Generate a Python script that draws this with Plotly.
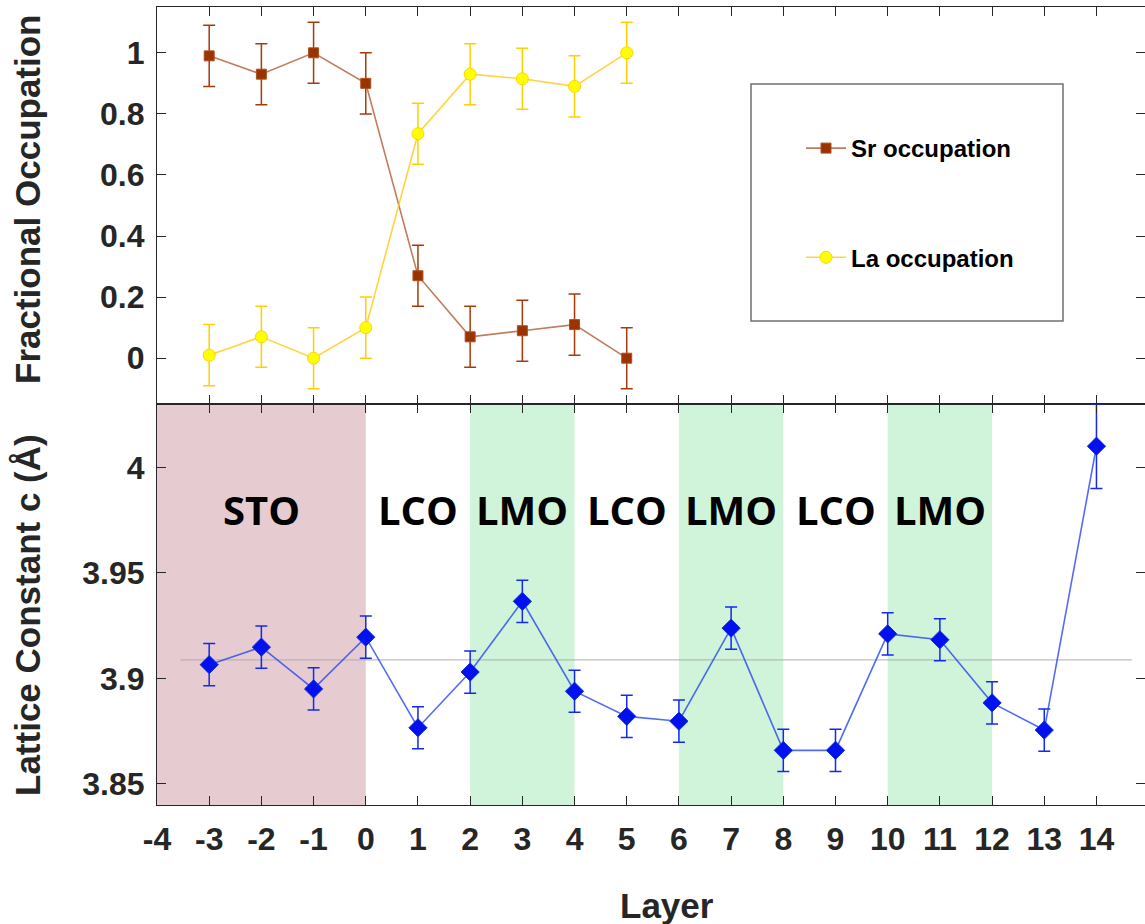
import plotly.graph_objects as go
from plotly.subplots import make_subplots

# ---------------- data ----------------
layers_occ = [-3, -2, -1, 0, 1, 2, 3, 4, 5]
sr_occ = [0.99, 0.93, 1.00, 0.90, 0.27, 0.07, 0.09, 0.11, 0.00]
sr_err = [0.1, 0.1, 0.1, 0.1, 0.1, 0.1, 0.1, 0.1, 0.1]
la_occ = [0.01, 0.07, 0.00, 0.10, 0.735, 0.93, 0.915, 0.89, 1.00]
la_err = [0.1, 0.1, 0.1, 0.1, 0.1, 0.1, 0.1, 0.1, 0.1]

layers_c = [-3, -2, -1, 0, 1, 2, 3, 4, 5, 6, 7, 8, 9, 10, 11, 12, 13, 14]
lattice_c = [3.9065, 3.9148, 3.8950, 3.9195, 3.8766, 3.9030, 3.9365, 3.8939, 3.8820,
             3.8797, 3.9238, 3.8659, 3.8659, 3.9211, 3.9183, 3.8884, 3.8755, 4.0100]
lattice_err = [0.01, 0.01, 0.01, 0.01, 0.01, 0.01, 0.01, 0.01, 0.01,
               0.01, 0.01, 0.01, 0.01, 0.01, 0.01, 0.01, 0.01, 0.02]

ref_line_x = [-3.55, 14.68]
ref_line_y = [3.9088, 3.9088]

region_labels = ["STO", "LCO", "LMO", "LCO", "LMO", "LCO", "LMO"]
region_label_x = [-2, 1, 3, 5, 7, 9, 11]
region_label_y = 3.98

sto_span = [(-4, 0)]
lmo_spans = [(2, 4), (6, 8), (10, 12)]

x_ticks = [-4, -3, -2, -1, 0, 1, 2, 3, 4, 5, 6, 7, 8, 9, 10, 11, 12, 13, 14]
x_tick_text = ["-4", "-3", "-2", "-1", "0", "1", "2", "3", "4", "5", "6", "7", "8",
               "9", "10", "11", "12", "13", "14"]
occ_ticks = [0, 0.2, 0.4, 0.6, 0.8, 1]
occ_tick_text = ["0", "0.2", "0.4", "0.6", "0.8", "1"]
c_ticks = [3.85, 3.9, 3.95, 4.0]
c_tick_text = ["3.85", "3.9", "3.95", "4"]

x_title = "Layer"
y_title_top = "Fractional Occupation"
y_title_bottom = "Lattice Constant c (Å)"

# ---------------- figure ----------------
W, H = 1145, 924
ML, MR, MT, MB = 157, 0, 7, 119

fig = make_subplots(rows=2, cols=1, shared_xaxes=True, vertical_spacing=0,
                    row_heights=[397, 401])

SR_COL = "#993300"
LA_COL = "#FFFF00"

fig.add_trace(go.Scatter(
    x=layers_occ, y=sr_occ, name="Sr occupation", mode="lines+markers",
    line=dict(color="rgba(170,80,40,0.75)", width=1.6),
    marker=dict(symbol="square", size=10, color=SR_COL,
                line=dict(color="#B0501F", width=1)),
    error_y=dict(type="data", array=sr_err, visible=True, color="#A83A0A",
                 thickness=1.5, width=6),
    legendgroup="sr"), row=1, col=1)

fig.add_trace(go.Scatter(
    x=layers_occ, y=la_occ, name="La occupation", mode="lines+markers",
    line=dict(color="rgba(255,205,30,0.85)", width=1.6),
    marker=dict(symbol="circle", size=12, color=LA_COL,
                line=dict(color="#FFD400", width=1)),
    error_y=dict(type="data", array=la_err, visible=True, color="#FFD000",
                 thickness=1.5, width=6),
    legendgroup="la"), row=1, col=1)

fig.add_trace(go.Scatter(
    x=ref_line_x, y=ref_line_y, mode="lines", showlegend=False,
    line=dict(color="rgba(170,170,170,0.75)", width=1.2), hoverinfo="skip"),
    row=2, col=1)

fig.add_trace(go.Scatter(
    x=layers_c, y=lattice_c, name="Lattice constant c", mode="lines+markers",
    showlegend=False,
    line=dict(color="rgba(40,70,240,0.8)", width=1.6),
    marker=dict(symbol="diamond", size=14, color="#0010EE",
                line=dict(color="#1030E0", width=1)),
    error_y=dict(type="data", array=lattice_err, visible=True, color="#1428F0",
                 thickness=1.5, width=6)),
    row=2, col=1)

# shaded regions in the lower panel
shapes = []
for (a, b) in sto_span:
    shapes.append(dict(type="rect", xref="x2", yref="y2 domain", x0=a, x1=b, y0=0, y1=1,
                       fillcolor="#E6CCD1", line=dict(width=0), layer="below"))
for (a, b) in lmo_spans:
    shapes.append(dict(type="rect", xref="x2", yref="y2 domain", x0=a, x1=b, y0=0, y1=1,
                       fillcolor="#CFF4DA", line=dict(width=0), layer="below"))

pw = W - ML - MR
ph = H - MT - MB
def px_x(v):
    return (v - ML) / pw
def px_y(v):
    return 1 - (v - MT) / ph

# legend frame
shapes.append(dict(type="rect", xref="paper", yref="paper",
                   x0=px_x(751), x1=px_x(1063), y0=px_y(321), y1=px_y(84),
                   line=dict(color="#707070", width=1.5), fillcolor="rgba(0,0,0,0)",
                   layer="above"))

title_font = dict(family="Liberation Sans, Arial, sans-serif", size=35, color="#262626",
                  weight="bold")

annotations = []
for lab, xv in zip(region_labels, region_label_x):
    annotations.append(dict(x=xv, y=region_label_y, xref="x2", yref="y2", text=lab,
                            showarrow=False,
                            font=dict(family="Open Sans", size=40, color="#000000",
                                      weight="bold")))

# axis titles
annotations.append(dict(text=y_title_top, xref="paper", yref="paper",
                        x=px_x(27), y=px_y(199), xanchor="center", yanchor="middle",
                        textangle=-90, showarrow=False, font=title_font))
annotations.append(dict(text=y_title_bottom, xref="paper", yref="paper",
                        x=px_x(27), y=px_y(615), xanchor="center", yanchor="middle",
                        textangle=-90, showarrow=False, font=title_font))
annotations.append(dict(text=x_title, xref="paper", yref="paper",
                        x=px_x(667), y=px_y(905), xanchor="center", yanchor="middle",
                        showarrow=False, font=title_font))

tick_font = dict(family="Liberation Sans, Arial, sans-serif", size=32, color="#262626",
                 weight="bold")

axis_common = dict(showline=True, linecolor="#262626", linewidth=1.2, mirror="ticks",
                   ticks="inside", ticklen=9, tickcolor="#262626", tickwidth=1,
                   showgrid=False, zeroline=False)

fig.update_xaxes(range=[-4, 14.93], tickvals=x_ticks, ticktext=x_tick_text, **axis_common)
fig.update_xaxes(showticklabels=False, row=1, col=1)
fig.update_xaxes(tickfont=tick_font, ticklabelstandoff=5, row=2, col=1)

fig.update_yaxes(range=[-0.15, 1.15], tickvals=occ_ticks, ticktext=occ_tick_text,
                 tickfont=tick_font, ticklabelstandoff=5,
                 row=1, col=1, **axis_common)
fig.update_yaxes(range=[3.84, 4.03], tickvals=c_ticks, ticktext=c_tick_text,
                 tickfont=tick_font, ticklabelstandoff=5,
                 row=2, col=1, **axis_common)

fig.update_layout(
    width=W, height=H,
    margin=dict(l=ML, r=MR, t=MT, b=MB, autoexpand=False),
    paper_bgcolor="white", plot_bgcolor="white",
    shapes=shapes, annotations=annotations,
    showlegend=True,
    legend=dict(x=px_x(801), y=px_y(126), xanchor="left", yanchor="top",
                bgcolor="rgba(0,0,0,0)", borderwidth=0, tracegroupgap=75,
                font=dict(family="Liberation Sans, Arial, sans-serif", size=24,
                          color="#000000", weight="bold"),
                itemwidth=40),
)

fig.write_html("out.html")
